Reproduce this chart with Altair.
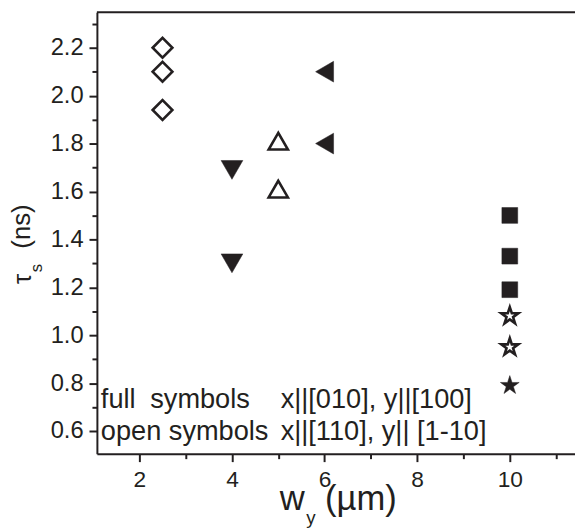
import altair as alt
import pandas as pd

# ---------------- data ----------------
diamond_x = [2.5, 2.5, 2.5]
diamond_y = [2.20, 2.10, 1.94]          # open diamonds
tri_down_x = [4, 4]
tri_down_y = [1.69, 1.30]               # full down-triangles
tri_up_x = [5, 5]
tri_up_y = [1.81, 1.61]                 # open up-triangles
tri_left_x = [6, 6]
tri_left_y = [2.10, 1.80]               # full left-triangles
square_x = [10, 10, 10]
square_y = [1.50, 1.33, 1.19]           # full squares
open_star_x = [10, 10]
open_star_y = [1.08, 0.95]              # open stars
full_star_x = [10]
full_star_y = [0.79]                    # full star

x_tick_values = [2, 3, 4, 5, 6, 7, 8, 9, 10, 11]
y_tick_values = [0.6, 0.7, 0.8, 0.9, 1.0, 1.1, 1.2, 1.3, 1.4, 1.5, 1.6,
                 1.7, 1.8, 1.9, 2.0, 2.1, 2.2, 2.3]

note_full = ["full", "symbols", "x||[010], y||[100]"]
note_open = ["open symbols", "x||[110], y|| [1-10]"]

# ---------------- styling ----------------
FONT = "Liberation Sans"
INK = "#231f20"
W, H = 484, 447
STAR = ("M0,-1L0.225,-0.309L0.951,-0.309L0.363,0.118L0.588,0.809L0,0.382"
        "L-0.588,0.809L-0.363,0.118L-0.951,-0.309L-0.225,-0.309Z")

xscale = alt.Scale(domain=[1.083, 11.408], nice=False, zero=False)
yscale = alt.Scale(domain=[0.5052, 2.3485], nice=False, zero=False)

xaxis = alt.Axis(
    values=x_tick_values, title=None, grid=False,
    labelExpr="datum.value % 2 == 0 ? datum.label : ''",
    tickSize={"condition": {"test": "datum.value % 2 == 0", "value": 8}, "value": 5},
    tickWidth=2, tickColor=INK, domainColor=INK, domainWidth=2,
    labelFont=FONT, labelFontSize=23, labelColor=INK, labelPadding=7,
    labelFlush=False, labelOverlap=False,
)
yaxis = alt.Axis(
    values=y_tick_values, title=None, grid=False,
    labelExpr="round(datum.value * 10) % 2 == 0 ? format(datum.value, '.1f') : ''",
    tickSize={"condition": {"test": "round(datum.value * 10) % 2 == 0", "value": 8}, "value": 5},
    tickWidth=2, tickColor=INK, domainColor=INK, domainWidth=2,
    labelFont=FONT, labelFontSize=24, labelColor=INK, labelPadding=6,
    labelFlush=False, labelOverlap=False,
)

series = [
    (diamond_x, diamond_y, "diamond", False, 400),
    (tri_down_x, tri_down_y, "triangle-down", True, 484),
    (tri_up_x, tri_up_y, "triangle-up", False, 380),
    (tri_left_x, tri_left_y, "triangle-left", True, 441),
    (square_x, square_y, "square", True, 256),
    (open_star_x, open_star_y, STAR, False, 330),
    (full_star_x, full_star_y, STAR, True, 400),
]

layers = []
for xs, ys, shape, filled, size in series:
    df = pd.DataFrame({"x": xs, "y": ys})
    if filled:
        mark = dict(shape=shape, filled=True, fill=INK, stroke=INK,
                    strokeWidth=0.5, opacity=1, size=size)
    else:
        mark = dict(shape=shape, filled=False, fill="white", fillOpacity=0,
                    stroke=INK, strokeWidth=2.6, opacity=1, size=size)
    layers.append(
        alt.Chart(df).mark_point(**mark)
        .encode(x=alt.X("x:Q", scale=xscale, axis=xaxis),
                y=alt.Y("y:Q", scale=yscale, axis=yaxis))
    )

one = pd.DataFrame({"_": [0]})


def label(txt, x, y, size, angle=0, align="left", baseline="alphabetic"):
    kw = dict(text=txt, fontSize=size, font=FONT, color=INK, align=align,
              baseline=baseline)
    if angle:
        kw["angle"] = angle
    return alt.Chart(one).mark_text(**kw).encode(x=alt.value(x), y=alt.value(y))


# top frame line
layers.append(alt.Chart(one).mark_rule(color=INK, strokeWidth=2)
              .encode(x=alt.value(0), x2=alt.value(W), y=alt.value(0)))

# annotations
layers += [
    label(note_full[0], 4, 401, 27.5),
    label(note_full[1], 54, 401, 27.5),
    label(note_full[2], 186, 401, 27.5),
    label(note_open[0], 4, 433, 27.5),
    label(note_open[1], 186, 433, 27.5),
]

# x title: w_y (µm)
layers += [
    label("w", 185, 504, 35),
    label("y", 212, 518, 19),
    label("(\u00b5m)", 231, 504, 35),
]
# y title: tau_s (ns)
layers += [
    label("\u03c4", -67, 270, 26, angle=270, align="center"),
    label("s", -56, 259, 17, angle=270, align="center"),
    label("(ns)", -68, 217, 26, angle=270, align="center"),
]

chart = (
    alt.layer(*layers)
    .properties(width=W, height=H, autosize=alt.AutoSizeParams(type="none"),
                padding={"left": 90, "top": 1, "right": 0, "bottom": 74},
                background="white")
    .configure_view(stroke=None)
)

chart.save("out.html", embed_options={"renderer": "svg", "actions": False})
